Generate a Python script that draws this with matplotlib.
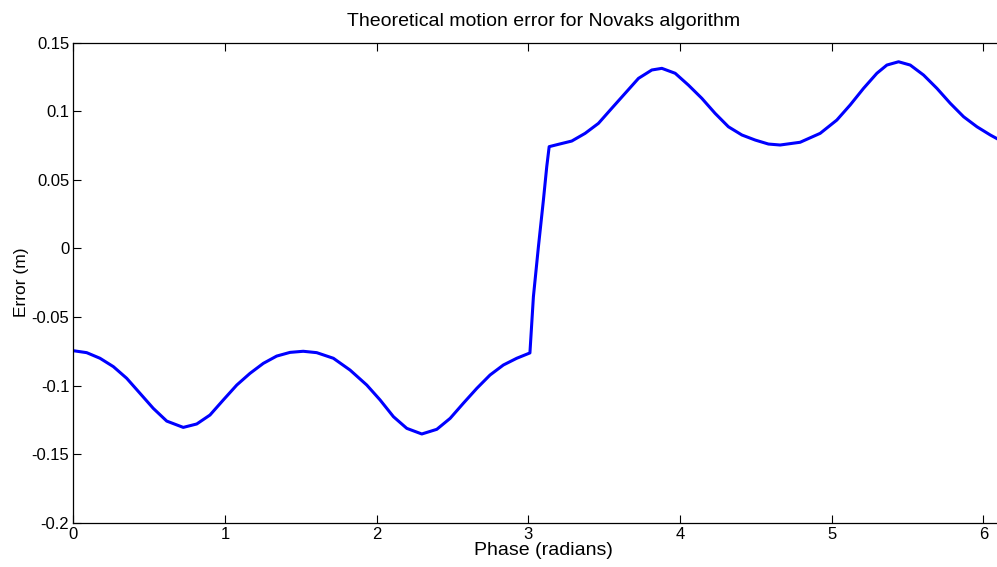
import matplotlib.pyplot as plt

plt.rcParams['font.family'] = ['Liberation Sans', 'DejaVu Sans']

# phase (radians) and error (m)
phase = [0.000, 0.087, 0.175, 0.263, 0.351, 0.439, 0.526, 0.615, 0.724, 0.813,
         0.900, 0.988, 1.077, 1.164, 1.252, 1.340, 1.428, 1.515, 1.604, 1.714,
         1.824, 1.934, 2.022, 2.110, 2.198, 2.297, 2.396, 2.484, 2.571, 2.660,
         2.747, 2.835, 2.923, 3.010, 3.033, 3.066, 3.099, 3.121, 3.137, 3.198,
         3.286, 3.374, 3.462, 3.550, 3.638, 3.726, 3.814, 3.880, 3.968, 4.055,
         4.144, 4.231, 4.319, 4.408, 4.496, 4.583, 4.660, 4.792, 4.924, 5.034,
         5.122, 5.210, 5.298, 5.364, 5.441, 5.518, 5.606, 5.694, 5.782, 5.870,
         5.958, 6.046, 6.094, 6.130]
error = [-0.0746, -0.0760, -0.0801, -0.0862, -0.0947, -0.1057, -0.1166, -0.1259, -0.1305, -0.1280,
         -0.1215, -0.1105, -0.0996, -0.0911, -0.0838, -0.0785, -0.0758, -0.0750, -0.0760, -0.0801,
         -0.0887, -0.0996, -0.1105, -0.1227, -0.1312, -0.1353, -0.1319, -0.1239, -0.1129, -0.1020,
         -0.0923, -0.0850, -0.0801, -0.0762, -0.0352, 0.0012, 0.0353, 0.0596, 0.0742, 0.0759,
         0.0783, 0.0839, 0.0912, 0.1022, 0.1131, 0.1240, 0.1301, 0.1313, 0.1277, 0.1191,
         0.1094, 0.0985, 0.0887, 0.0827, 0.0790, 0.0761, 0.0754, 0.0774, 0.0839, 0.0936,
         0.1046, 0.1167, 0.1277, 0.1337, 0.1361, 0.1337, 0.1264, 0.1167, 0.1058, 0.0960,
         0.0887, 0.0827, 0.0798, 0.0778]

fig = plt.figure(figsize=(9.97, 5.67), dpi=100)
# axes run a little past the right edge of the picture, as in the reference
ax = fig.add_axes([0.0737, 0.0781, 0.943, 0.8466])
ax.plot(phase, error, color='#0000ff', lw=2.2)

ax.set_xlim(0, 6.2)
ax.set_ylim(-0.2, 0.15)
ax.set_xticks([0, 1, 2, 3, 4, 5, 6])
ax.set_yticks([-0.2, -0.15, -0.1, -0.05, 0, 0.05, 0.1, 0.15])
ax.set_yticklabels(['-0.2', '-0.15', '-0.1', '-0.05', '0', '0.05', '0.1', '0.15'])
ax.tick_params(direction='in', length=6, width=0.8, top=True, right=True,
               labelsize=12, pad=3)
for s in ax.spines.values():
    s.set_linewidth(0.9)

ax.set_title('Theoretical motion error for Novaks algorithm', fontsize=14, pad=12)
ax.set_xlabel('Phase (radians)', fontsize=14, labelpad=0)
ax.set_ylabel('Error (m)', fontsize=12.5, labelpad=2)

fig.savefig('out.png', dpi=100)
